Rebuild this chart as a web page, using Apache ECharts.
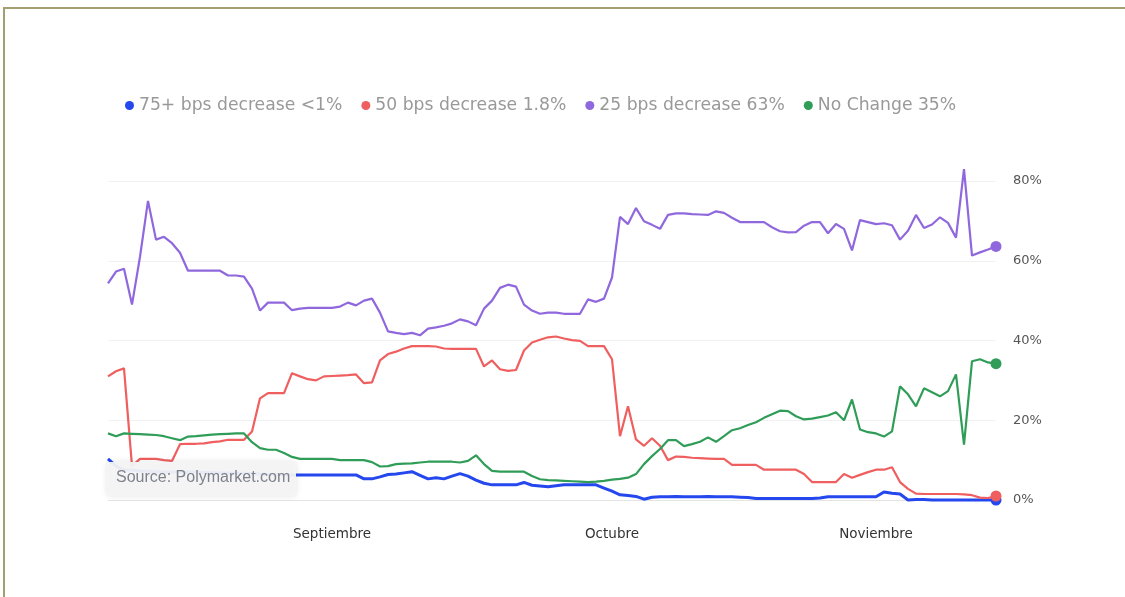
<!DOCTYPE html>
<html>
<head>
<meta charset="utf-8">
<script src="https://cdn.jsdelivr.net/npm/echarts@6/dist/echarts.min.js"></script>
<style>
html,body{margin:0;padding:0;background:#fff;}
#chart{width:1125px;height:597px;}
</style>
</head>
<body>
<div id="chart"></div>
<script>
// sample points, evenly spaced along the time axis
const seriesNames = ['75+ bps decrease <1%', '50 bps decrease 1.8%', '25 bps decrease 63%', 'No Change 35%'];
const colors = ['#2447ee', '#ef5f5f', '#9068dd', '#2f9d58'];
const tickLabels = ['Septiembre', 'Octubre', 'Noviembre'];
const tickIndex = [28, 63, 96];
const yTicks = [0, 20, 40, 60, 80];

const blue = [10.3,8.5,7.5,7.5,7.3,7.2,7.1,7.0,7.0,7.0,7.0,7.0,6.9,6.9,6.8,6.8,6.7,6.7,6.6,6.5,
  6.4,6.4,6.3,6.3,6.3,6.3,6.3,6.3,6.3,6.3,6.3,6.3,5.3,5.3,5.8,6.4,6.5,6.8,7.1,6.2,
  5.3,5.6,5.3,6.0,6.6,6.0,5.0,4.2,3.8,3.8,3.8,3.8,4.4,3.7,3.5,3.3,3.6,3.8,3.8,3.8,
  3.8,3.8,3.0,2.2,1.3,1.1,0.9,0.2,0.7,0.8,0.8,0.9,0.8,0.8,0.8,0.9,0.8,0.8,0.8,0.7,
  0.6,0.4,0.4,0.4,0.4,0.4,0.4,0.4,0.4,0.5,0.8,0.8,0.8,0.8,0.8,0.8,0.8,2.0,1.7,1.5,
  0.0,0.1,0.1,0.0,0.0,0.0,0.0,0.0,0.0,0.0,0.0,0.0];
const red = [31,32.3,33,8.5,10.3,10.3,10.3,10,9.8,14,14.1,14.1,14.2,14.5,14.7,15.1,15.1,15.1,17.2,25.5,
  26.8,26.8,26.8,31.8,31,30.3,30,31,31.1,31.2,31.3,31.5,29.3,29.5,35,36.6,37.2,38,38.6,38.6,
  38.6,38.5,38,37.9,37.9,37.9,37.9,33.5,35,32.8,32.4,32.6,37.5,39.5,40.2,40.8,41,40.5,40.1,39.9,
  38.6,38.6,38.6,35.3,16,23.5,15.2,13.6,15.5,13.6,10,10.9,10.8,10.6,10.5,10.4,10.3,10.3,8.8,8.8,
  8.8,8.8,7.6,7.6,7.6,7.6,7.6,6.5,4.5,4.5,4.5,4.5,6.5,5.6,6.3,7,7.6,7.6,8.2,4.5,
  2.8,1.6,1.5,1.5,1.5,1.5,1.5,1.4,1.2,0.6,0.5,1];
const purple = [54.3,57.3,58,49,61,75,65.3,66,64.4,62,57.5,57.5,57.5,57.5,57.5,56.3,56.3,56,53,47.5,
  49.5,49.5,49.5,47.6,48,48.2,48.2,48.2,48.2,48.5,49.5,48.8,50,50.5,47,42.3,41.9,41.6,41.9,41.3,
  43,43.3,43.7,44.3,45.3,44.8,43.8,48,50,53.2,54,53.5,49,47.5,46.7,47,47,46.7,46.7,46.7,
  50.3,49.7,50.5,55.8,71,69.2,73.2,69.9,69,68,71.5,71.9,71.9,71.7,71.6,71.5,72.4,72,70.8,69.7,
  69.7,69.7,69.7,68.4,67.4,67.1,67.2,68.8,69.7,69.7,66.9,69.2,68,62.6,70.2,69.7,69.2,69.4,68.9,65.3,
  67.5,71.5,68.2,69.1,70.9,69.5,65.8,83,61.3,62.1,62.8,63.6];
const green = [16.7,16,16.7,16.6,16.5,16.4,16.3,16,15.5,15,15.9,16,16.2,16.4,16.5,16.6,16.7,16.7,14.5,13,
  12.6,12.6,11.8,10.8,10.3,10.3,10.3,10.3,10.3,10,10,10,10,9.5,8.4,8.5,9,9.1,9.2,9.4,
  9.6,9.6,9.6,9.6,9.4,9.8,11.2,9,7.3,7.1,7.1,7.1,7.1,6,5.2,5,4.9,4.8,4.7,4.6,
  4.5,4.6,4.8,5.1,5.3,5.6,6.5,9,11,12.8,15,15,13.5,14,14.6,15.7,14.6,16,17.5,18,
  18.8,19.5,20.6,21.5,22.4,22.3,21,20.2,20.4,20.8,21.2,22,20,25.2,17.7,17,16.7,15.9,17.2,28.5,
  26.5,23.5,28,27,26,27.3,31.5,13.9,34.8,35.3,34.5,34.2];

const values = [blue, red, purple, green];
const categories = blue.map((_, i) => String(i));
const lastIdx = categories.length - 1;

const chart = echarts.init(document.getElementById('chart'), null, {renderer: 'canvas'});
chart.setOption({
  backgroundColor: '#ffffff',
  animation: false,
  color: colors,
  legend: {
    top: 92, left: 120,
    icon: 'circle', itemWidth: 9, itemHeight: 9, itemGap: 19,
    textStyle: {color: '#999999', fontSize: 17.2, fontFamily: 'DejaVu Sans'},
    data: seriesNames
  },
  grid: {left: 108, right: 129, top: 181, bottom: 97, containLabel: false},
  xAxis: {
    type: 'category', data: categories, boundaryGap: false,
    axisLine: {show: true, lineStyle: {color: '#e4e4e4', width: 1}},
    axisTick: {show: false},
    splitLine: {show: false},
    axisLabel: {
      interval: (idx) => tickIndex.indexOf(idx) >= 0,
      formatter: (v, idx) => { const k = tickIndex.indexOf(idx); return k >= 0 ? tickLabels[k] : ''; },
      color: '#333', fontSize: 13.5, fontFamily: 'DejaVu Sans', margin: 27
    }
  },
  yAxis: {
    type: 'value', position: 'right', min: yTicks[0], max: yTicks[yTicks.length - 1], interval: 20,
    axisLine: {show: false}, axisTick: {show: false},
    splitLine: {lineStyle: {color: '#f1f1f1', width: 1}},
    axisLabel: {formatter: '{value}%', color: '#555', fontSize: 13, fontFamily: 'DejaVu Sans', margin: 17}
  },
  series: seriesNames.map((name, s) => ({
    name: name, type: 'line', data: values[s],
    clip: false, smooth: false,
    showSymbol: true, showAllSymbol: true,
    symbol: (val, p) => p.dataIndex === lastIdx ? 'circle' : 'none',
    symbolSize: 11,
    lineStyle: {width: s === 0 ? 3 : 2.2, color: colors[s]},
    itemStyle: {color: colors[s]},
    z: 3 + s
  })),
  graphic: [
    {type: 'rect', left: 3, top: 7, shape: {width: 1122, height: 2}, style: {fill: '#a59e70'}, z: 100},
    {type: 'rect', left: 3, top: 7, shape: {width: 2, height: 590}, style: {fill: '#a59e70'}, z: 100},
    {type: 'rect', left: 107, top: 462, shape: {width: 189, height: 34, r: 3},
      style: {fill: 'rgba(244,244,246,0.95)', shadowBlur: 6, shadowColor: 'rgba(0,0,0,0.12)'}, z: 50},
    {type: 'text', left: 116, top: 470, style: {text: 'Source: Polymarket.com', fill: '#7d8189',
      font: '16px "Liberation Sans"'}, z: 51}
  ]
});
</script>
</body>
</html>
